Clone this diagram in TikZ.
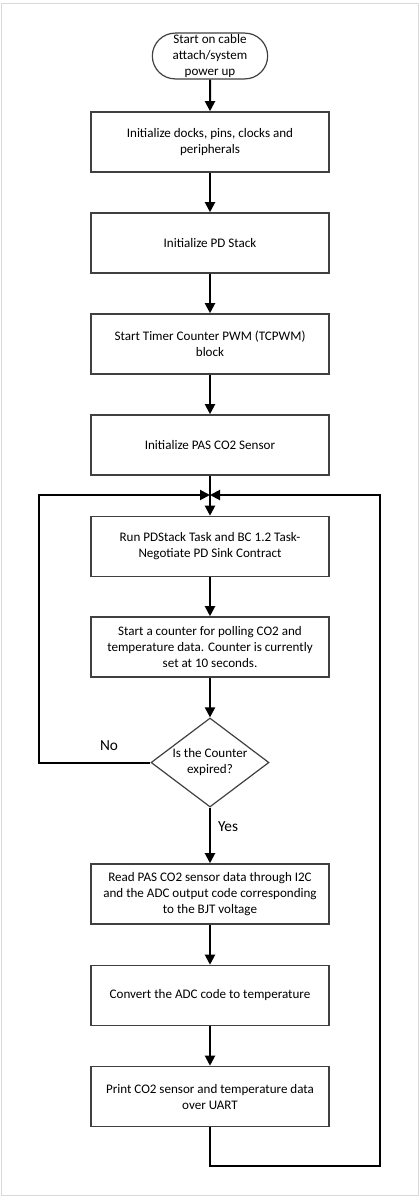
\documentclass[tikz,border=0pt]{standalone}
\usepackage{tikz}
\usepackage{xcolor}
\usepackage{fontspec}
\setmainfont{Carlito}
\usetikzlibrary{arrows.meta,positioning,shapes.geometric,shapes.misc}

\definecolor{boxline}{HTML}{404040}
\definecolor{frameline}{HTML}{D9D9D9}

\tikzset{
  stepbox/.style={draw=boxline,line width=1.2pt,rectangle,minimum width=238*0.75pt,
    minimum height=60*0.75pt,align=center,font=\fontsize{9.8pt}{12pt}\selectfont,inner sep=2pt},
  startbox/.style={draw=boxline,line width=0.9pt,rounded rectangle,minimum width=118*0.75pt,
    minimum height=45*0.75pt,align=center,font=\fontsize{9.8pt}{12pt}\selectfont,inner sep=1pt},
  choice/.style={draw=boxline,line width=0.9pt,diamond,shape aspect=1.33,minimum width=118*0.75pt,
    minimum height=89*0.75pt,align=center,font=\fontsize{9.8pt}{12pt}\selectfont,inner sep=0pt},
  flow/.style={line width=1.5pt,-{Triangle[length=7.5pt,width=7.5pt]}},
  answer/.style={font=\fontsize{11.5pt}{13pt}\selectfont}
}

\begin{document}
\begin{tikzpicture}[x=0.75pt,y=-0.75pt]
\useasboundingbox (0,0) rectangle (420,1199);
\draw[frameline,line width=0.9pt](1.5,3.5) rectangle (418.5,1195.5);
\node[startbox] (start) at (210,56) {Start on cable\\attach/system\\power up};
\node[stepbox] (init) at (210,142) {Initialize docks, pins, clocks and\\peripherals};
\node[stepbox] (pdstack) at (210,243) {Initialize PD Stack};
\node[stepbox] (tcpwm) at (210,344) {Start Timer Counter PWM (TCPWM)\\block};
\node[stepbox] (sensor) at (210,445) {Initialize PAS CO2 Sensor};
\node[stepbox] (run) at (210,546.5) {Run PDStack Task and BC 1.2 Task-\\Negotiate PD Sink Contract};
\node[stepbox] (counter) at (210,647) {Start a counter for polling CO2 and\\temperature data. Counter is currently\\set at 10 seconds.};
\node[choice] (expired) at (210,762.5) {Is the Counter\\expired?};
\node[stepbox] (read) at (210,894) {Read PAS CO2 sensor data through I2C\\and the ADC output code corresponding\\to the BJT voltage};
\node[stepbox] (convert) at (210,995.5) {Convert the ADC code to temperature};
\node[stepbox] (print) at (210,1096.5) {Print CO2 sensor and temperature data\\over UART};
\coordinate (merge) at (210,495);
\draw[flow](start) -- (init);
\draw[flow](init) -- (pdstack);
\draw[flow](pdstack) -- (tcpwm);
\draw[flow](tcpwm) -- (sensor);
\draw[flow](sensor) -- (run);
\draw[flow](run) -- (counter);
\draw[flow](counter) -- (expired);
\draw[flow](expired) -- (read);
\draw[flow](read) -- (convert);
\draw[flow](convert) -- (print);
\draw[flow](expired.west) -- (39,762.5) |- (merge);
\draw[flow](print.south) |- (380,1166) |- (merge);
\node[answer] (no) at (109,746) {No};
\node[answer] (yes) at (228,827) {Yes};
\end{tikzpicture}
\end{document}
